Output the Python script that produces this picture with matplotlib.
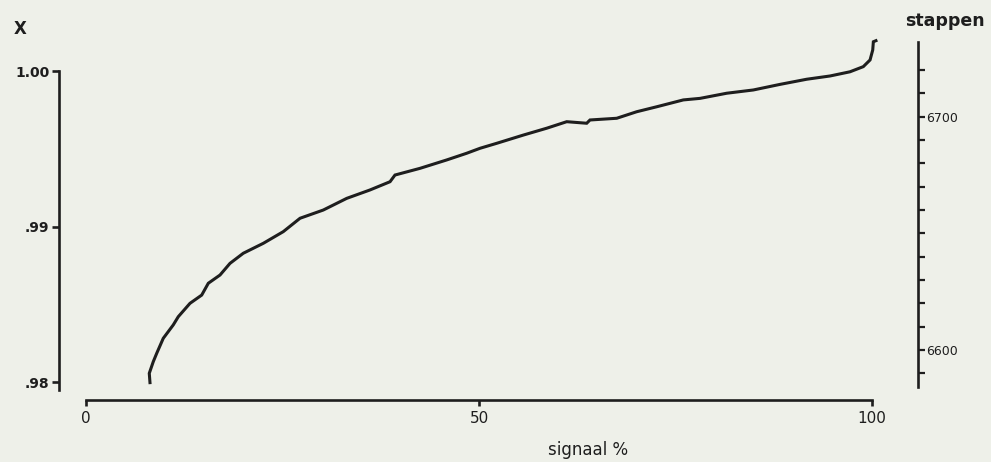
import matplotlib
matplotlib.use("Agg")
import matplotlib.pyplot as plt

# data
signaal = [8.14, 8.05, 8.56, 9.0, 9.83, 11.1, 11.74, 13.23, 14.72, 15.56, 17.05, 18.32,
           20.01, 22.56, 25.10, 27.23, 30.19, 33.17, 36.13, 38.68, 39.31, 42.49, 45.89,
           48.43, 50.13, 52.25, 55.64, 58.61, 61.16, 63.70, 64.12, 67.52, 70.06, 72.61,
           75.99, 78.12, 81.51, 84.90, 88.30, 91.69, 94.66, 97.20, 98.89, 99.75, 100.09, 100.17,
           100.5]
X = [0.97996, 0.98056, 0.98131, 0.98185, 0.98281, 0.98367, 0.98420, 0.98506, 0.98559,
     0.98635, 0.98688, 0.98763, 0.98828, 0.98892, 0.98967, 0.99053, 0.99106, 0.99181,
     0.99235, 0.99288, 0.99331, 0.99374, 0.99428, 0.99471, 0.99503, 0.99535, 0.99588,
     0.99632, 0.99674, 0.99664, 0.99685, 0.99696, 0.99738, 0.99770, 0.99814, 0.99824,
     0.99857, 0.99878, 0.99914, 0.99947, 0.99968, 0.99995, 1.00028, 1.00071, 1.00135, 1.00188,
     1.00195]

x_ticks = [0, 50, 100]
x_ticklabels = ["0", "50", "100"]
left_ticks = [0.98, 0.99, 1.00]
left_ticklabels = [".98", ".99", "1.00"]
right_ticks = list(range(6590, 6730, 10))
right_labelled = {6600: "6600", 6700: "6700"}

bg = "#eef0e9"
ink = "#1e1e1e"
W, H = 991, 462

fig = plt.figure(figsize=(W / 100, H / 100), dpi=100)
fig.patch.set_facecolor(bg)

left_px, right_px, top_px, bot_px = 59, 918, 42, 400
ax = fig.add_axes([left_px / W, (H - bot_px) / H, (right_px - left_px) / W, (bot_px - top_px) / H])
ax.patch.set_visible(False)

ax.set_xlim(-3.435, 105.85)
ax.set_ylim(0.978843, 1.001865)

ax.plot(signaal, X, color=ink, lw=2.2, solid_joinstyle="miter", clip_on=False)

for s in ["top", "right"]:
    ax.spines[s].set_visible(False)
for s in ["left", "bottom"]:
    ax.spines[s].set_color(ink)
    ax.spines[s].set_linewidth(1.9)
ax.spines["left"].set_bounds(0.9795, 1.0)
ax.spines["bottom"].set_bounds(0, 100)

ax.set_xticks(x_ticks)
ax.set_xticklabels(x_ticklabels)
ax.tick_params(axis="x", direction="out", length=4, width=1.9, color=ink, pad=4,
               labelsize=11, labelcolor=ink)
ax.set_yticks(left_ticks)
ax.set_yticklabels(left_ticklabels, fontweight="bold")
ax.tick_params(axis="y", direction="out", length=5, width=1.9, color=ink, pad=2,
               labelsize=10, labelcolor=ink)

ax2 = ax.twinx()
ax2.patch.set_visible(False)
ax2.set_ylim(6578.6, 6732.0)
for s in ["top", "left", "bottom"]:
    ax2.spines[s].set_visible(False)
ax2.spines["right"].set_color(ink)
ax2.spines["right"].set_linewidth(1.9)
ax2.spines["right"].set_bounds(6584, 6732)
ax2.set_yticks(right_ticks)
ax2.set_yticklabels([right_labelled.get(t, "") for t in right_ticks])
ax2.tick_params(axis="y", direction="out", length=5, width=1.6, color=ink, pad=1,
                labelsize=9, labelcolor=ink)

fig.text(20 / W, 1 - 29 / H, "X", ha="center", va="center", fontsize=12,
         fontweight="bold", color=ink)
fig.text(905 / W, 1 - 26 / H, "stappen", ha="left", va="baseline", fontsize=12.5,
         fontweight="bold", color=ink)
fig.text(588 / W, 1 - 455 / H, "signaal %", ha="center", va="baseline", fontsize=12,
         color=ink)

fig.savefig("out.png", dpi=100, facecolor=bg)
